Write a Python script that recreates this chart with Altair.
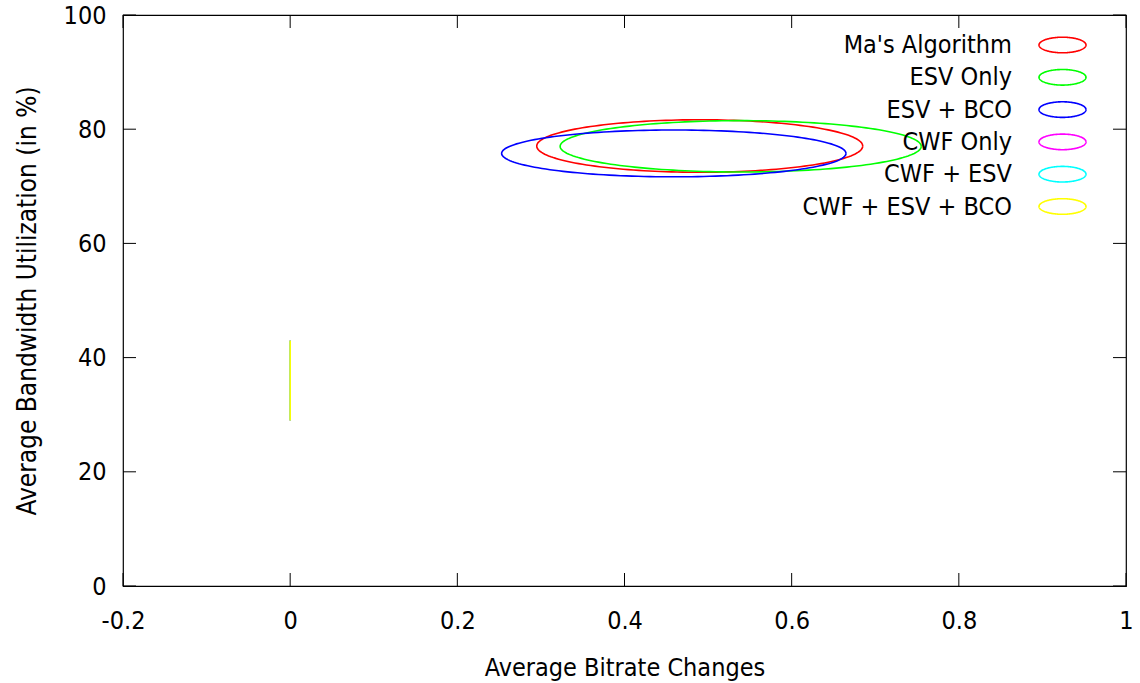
import numpy as np
import pandas as pd
import altair as alt

# Each method is summarised by an ellipse: centre (mean) and half-axes (spread)
series = ["Ma's Algorithm", "ESV Only", "ESV + BCO", "CWF Only", "CWF + ESV", "CWF + ESV + BCO"]
center_x = [0.490, 0.539, 0.459, 0.0, 0.0, 0.0]
center_y = [77.05, 77.0, 75.76, 36.0, 36.0, 36.0]
radius_x = [0.195, 0.216, 0.206, 0.0, 0.0, 0.0]
radius_y = [4.6, 4.5, 4.1, 7.0, 7.0, 7.0]
colors = ["#ff0000", "#00ff00", "#0000ff", "#ff00ff", "#00ffff", "#ffff00"]

x_ticks = [-0.2, 0, 0.2, 0.4, 0.6, 0.8, 1]
y_ticks = [0, 20, 40, 60, 80, 100]

FONT = "DejaVu Sans Condensed"
FS = 25
W, H = 1003, 571
TICK = 13

# outline parameter for each ellipse
angles = np.linspace(0, 2 * np.pi, 181)
params = pd.DataFrame({
    "series": series, "idx": range(len(series)),
    "cx": center_x, "cy": center_y, "rx": radius_x, "ry": radius_y,
})
outline = params.merge(pd.DataFrame({"t": angles}), how="cross")

xscale = alt.Scale(domain=[-0.2, 1], nice=False, zero=False)
yscale = alt.Scale(domain=[0, 100], nice=False, zero=False)
cscale = alt.Scale(domain=series, range=colors)

ellipses = alt.Chart(outline).mark_line(strokeWidth=1.6, clip=True).transform_calculate(
    ex="datum.cx + datum.rx * cos(datum.t)",
    ey="datum.cy + datum.ry * sin(datum.t)",
).encode(
    x=alt.X("ex:Q", scale=xscale, axis=alt.Axis(
        values=x_ticks, ticks=False, domain=False, grid=False, labelFlush=False,
        labelExpr="toString(round(datum.value * 10) / 10)",
        labelFont=FONT, labelFontSize=FS, labelPadding=22, labelColor="black",
        title="Average Bitrate Changes", titleFont=FONT, titleFontSize=FS,
        titleFontWeight="normal", titlePadding=22, titleColor="black")),
    y=alt.Y("ey:Q", scale=yscale, axis=alt.Axis(
        values=y_ticks, ticks=False, domain=False, grid=False, labelFlush=False,
        labelFont=FONT, labelFontSize=FS, labelPadding=17, labelColor="black",
        title="Average Bandwidth Utilization (in %)", titleFont=FONT, titleFontSize=26,
        titleFontWeight="normal", titlePadding=23, titleColor="black")),
    color=alt.Color("series:N", scale=cscale, legend=None),
    detail="series:N",
    order="t:Q",
)

# inward tick marks on all four sides of the frame
xt = pd.DataFrame({"v": x_ticks})
yt = pd.DataFrame({"v": y_ticks})
tick_style = dict(color="black", strokeWidth=1)
xt_bottom = alt.Chart(xt).mark_rule(**tick_style).encode(
    x=alt.X("v:Q", scale=xscale), y=alt.value(H), y2=alt.value(H - TICK))
xt_top = alt.Chart(xt).mark_rule(**tick_style).encode(
    x=alt.X("v:Q", scale=xscale), y=alt.value(0), y2=alt.value(TICK))
yt_left = alt.Chart(yt).mark_rule(**tick_style).encode(
    y=alt.Y("v:Q", scale=yscale), x=alt.value(0), x2=alt.value(TICK))
yt_right = alt.Chart(yt).mark_rule(**tick_style).encode(
    y=alt.Y("v:Q", scale=yscale), x=alt.value(W), x2=alt.value(W - TICK))

# key in the top-right corner: right-aligned text followed by a small ellipse
KEY_TEXT_X, KEY_TOP, KEY_STEP = 889, 30, 32.3
KEY_SYM_X, KEY_RX, KEY_RY = 939.5, 23.5, 7.8

key_text = alt.Chart(params).mark_text(
    align="right", baseline="middle", font=FONT, fontSize=FS, color="black"
).transform_calculate(
    py=f"{KEY_TOP} + datum.idx * {KEY_STEP}",
).encode(
    x=alt.value(KEY_TEXT_X),
    y=alt.Y("py:Q", scale=None),
    text="series:N",
)
key_sym = alt.Chart(outline).mark_line(strokeWidth=1.6).transform_calculate(
    px=f"{KEY_SYM_X} + {KEY_RX} * cos(datum.t)",
    py=f"{KEY_TOP} + datum.idx * {KEY_STEP} - {KEY_RY} * sin(datum.t)",
).encode(
    x=alt.X("px:Q", scale=None),
    y=alt.Y("py:Q", scale=None),
    color=alt.Color("series:N", scale=cscale, legend=None),
    detail="series:N",
    order="t:Q",
)

chart = alt.layer(
    xt_bottom, xt_top, yt_left, yt_right, ellipses, key_text, key_sym
).properties(
    width=W, height=H,
    padding={"left": 123, "top": 15, "right": 14, "bottom": 97},
    autosize=alt.AutoSizeParams(type="none"),
    background="white",
).configure_view(stroke="black", strokeWidth=1.2)

chart.save("out.html", embed_options={"renderer": "svg", "actions": False})
